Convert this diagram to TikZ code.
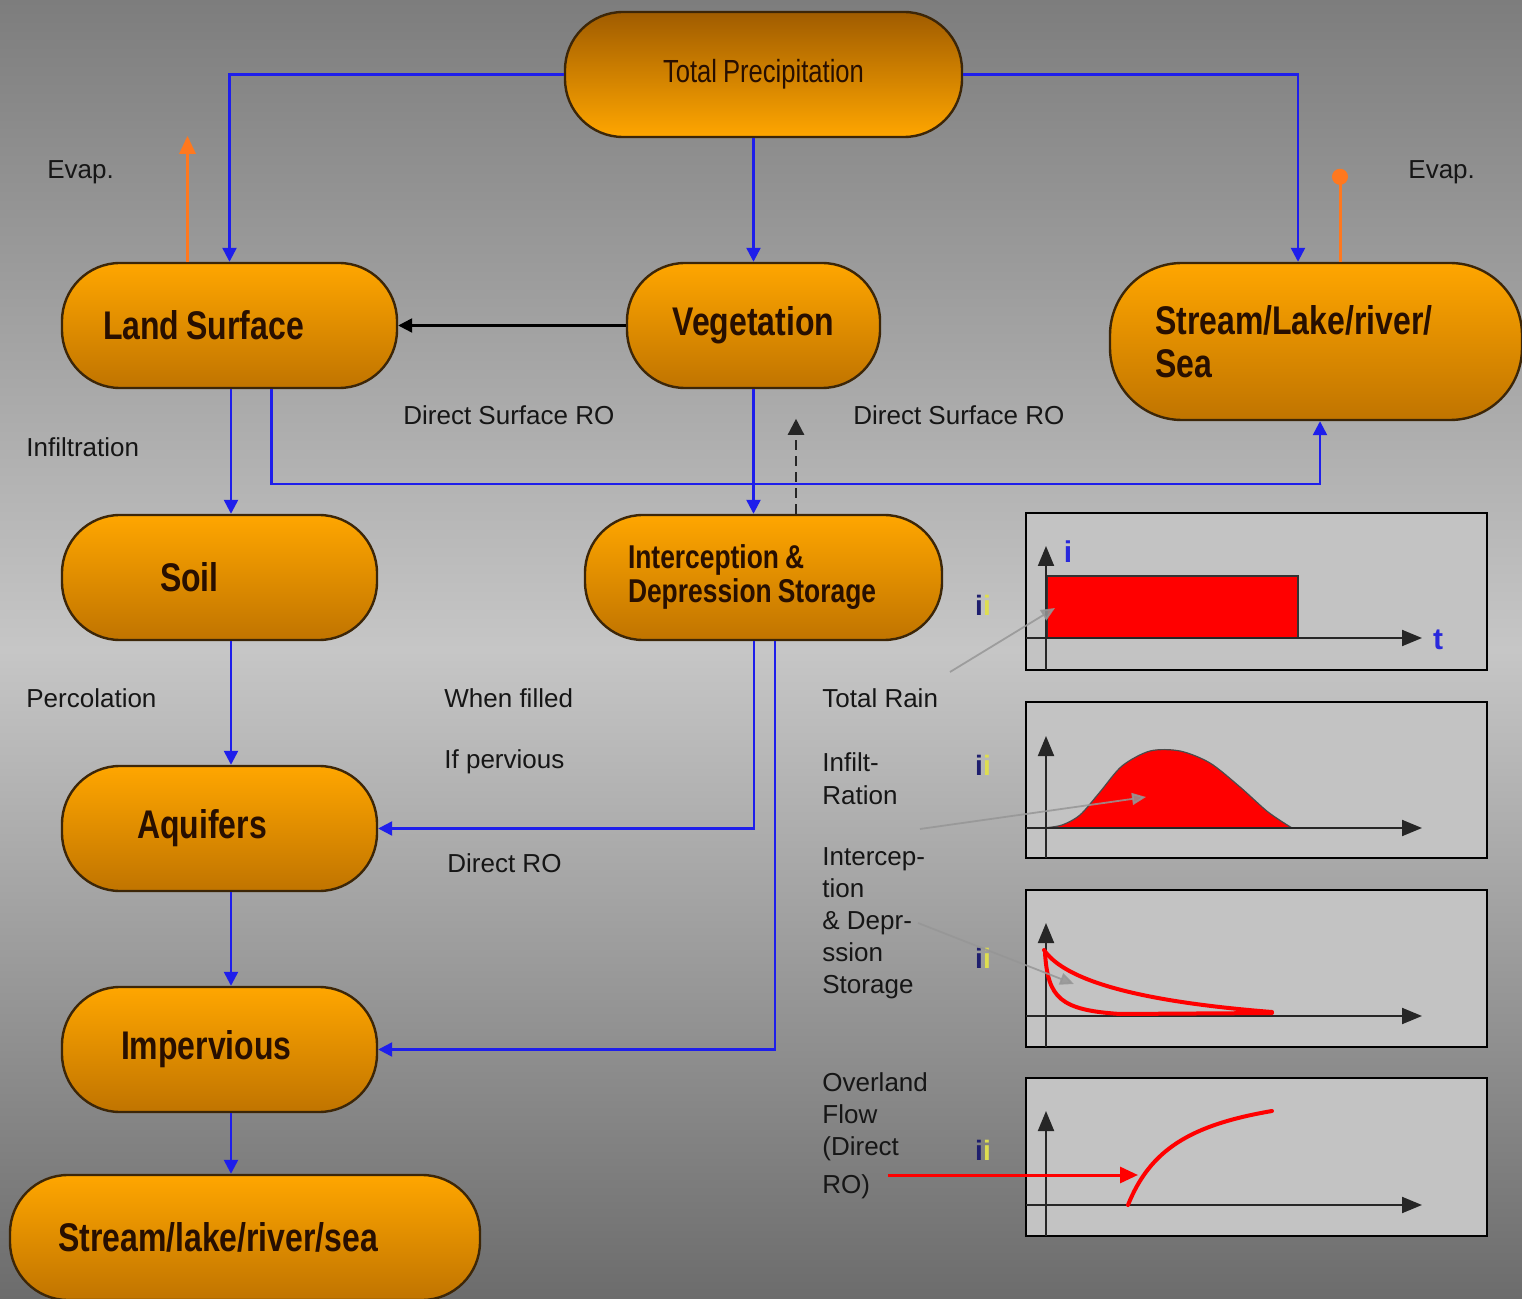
\documentclass[tikz,border=0pt]{standalone}
\usepackage{fontspec}
\setmainfont{Liberation Sans}
\newfontfamily\nodefont{Liberation Sans}[FakeStretch=0.8]
\usetikzlibrary{arrows.meta,calc}
\newcommand{\nsp}{\hspace{3.5pt}}
\definecolor{bgtop}{RGB}{125,125,125}
\definecolor{bglight}{RGB}{198,198,198}
\definecolor{bgbot}{RGB}{108,108,108}
\definecolor{orhi}{RGB}{255,166,0}
\definecolor{orlo}{RGB}{192,116,0}
\definecolor{ordk}{RGB}{160,92,0}
\definecolor{edgeblue}{RGB}{30,30,235}
\definecolor{evapc}{RGB}{255,120,30}
\definecolor{panelc}{RGB}{195,195,195}
\definecolor{nodeborder}{RGB}{60,38,8}
\definecolor{nodetext}{RGB}{40,15,0}
\definecolor{labeltext}{RGB}{22,22,22}
\definecolor{pointerc}{RGB}{150,150,150}
\definecolor{inavy}{RGB}{30,30,110}
\definecolor{iyellow}{RGB}{222,222,80}
\definecolor{axisblue}{RGB}{40,40,220}
\begin{document}
\begin{tikzpicture}[x=0.5pt,y=-0.5pt,
  proc/.style={draw=nodeborder, line width=1.2pt, rectangle, rounded corners=29pt,
    top color=orhi, bottom color=orlo, inner ysep=0pt, minimum height=62.5pt,
    font=\nodefont\bfseries\fontsize{20}{21.5}\selectfont, text=nodetext, align=left},
  flow/.style={draw=edgeblue, line width=1.2pt, -{Triangle[length=7pt,width=7pt]}},
  blackflow/.style={draw=black, line width=1.2pt, -{Triangle[length=7pt,width=7pt]}},
  evaparrow/.style={draw=evapc, line width=1.5pt},
  lab/.style={font=\fontsize{13}{16.5}\selectfont, text=labeltext, inner sep=0pt, anchor=west, align=left},
  panelbox/.style={draw=black, line width=1pt, fill=panelc},
  axisline/.style={draw=black!85, line width=1pt, -{Triangle[length=10pt,width=8pt]}},
  pointer/.style={draw=pointerc, line width=0.9pt, opacity=0.85, -{Triangle[length=7pt,width=6pt]}},
  redcurve/.style={draw=red, line width=2pt, line cap=round},
  iilabel/.style={font=\fontsize{14}{14}\selectfont\bfseries, inner sep=0pt}
]
\useasboundingbox (0,0) rectangle (1522,1299);
\shade[top color=bgtop, bottom color=bgbot, middle color=bglight] (0,0) rectangle (1522,1299);

% ---------- process nodes ----------
\node[proc, top color=ordk, bottom color=orhi, minimum width=198.5pt, align=center,
  font=\nodefont\fontsize{16}{18}\selectfont] (tp) at (763.5,74.5) {Total\hspace{3pt}Precipitation};
\node[proc, minimum width=167.5pt, inner xsep=20.5pt, text width=126.5pt] (land) at (229.5,325.5) {Land\nsp Surface};
\node[proc, minimum width=126.5pt, align=center] (veg) at (753.5,325.5) {Vegetation};
\node[proc, rounded corners=36pt, minimum width=206pt, minimum height=78.5pt, inner xsep=22.5pt, text width=161pt] (sea1) at (1316,341.5) {Stream/Lake/river/\\Sea};
\node[proc, minimum width=157.5pt, inner xsep=49pt, text width=59.5pt] (soil) at (219.5,577.5) {Soil};
\node[proc, minimum width=178.5pt, inner xsep=21.5pt, text width=135.5pt,
  font=\nodefont\bfseries\fontsize{16.5}{17}\selectfont] (inter) at (763.5,577.5) {Interception\hspace{3pt}\&\\Depression\hspace{3pt}Storage};
\node[proc, minimum width=157.5pt, inner xsep=37.5pt, text width=82.5pt] (aqui) at (219.5,828.5) {Aquifers};
\node[proc, minimum width=157.5pt, inner xsep=29.5pt, text width=98.5pt] (imperv) at (219.5,1049.5) {Impervious};
\node[proc, minimum width=235pt, inner xsep=24pt, text width=187pt] (sea2) at (245,1237.5) {Stream/lake/river/sea};

% ---------- connectors ----------
\draw[flow] (tp.west) -| (land.north);
\draw[flow] (tp.east) -| ([xshift=-9pt]sea1.north);
\draw[flow] (veg.north |- tp.south) -- (veg.north);
\draw[blackflow] (veg.west) -- (land.east);
\draw[flow] ([xshift=0.75pt]land.south) -- ([xshift=0.75pt]land.south |- soil.north);
\draw[flow] ([xshift=21pt]land.south) -- ++(0,95) -| ([xshift=2pt]sea1.south);
\draw[flow] (veg.south) -- (veg.south |- inter.north);
\draw[draw=black!85, line width=1.2pt, dash pattern=on 5pt off 3pt, -{Triangle[length=8pt,width=8pt]}]
  ([xshift=16.25pt]inter.north) -- ++(0,-95);
\draw[flow] ([xshift=5.75pt]soil.south) -- ([xshift=5.75pt]aqui.north);
\draw[flow] ([xshift=-4.75pt]inter.south) |- (aqui.east);
\draw[flow] ([xshift=5.75pt]inter.south) |- (imperv.east);
\draw[flow] ([xshift=5.75pt]aqui.south) -- ([xshift=5.75pt]imperv.north);
\draw[flow] ([xshift=5.75pt]imperv.south) -- ([xshift=5.75pt]imperv.south |- sea2.north);
\draw[evaparrow, -{Triangle[length=9pt,width=8pt]}] ([xshift=-21pt]land.north) -- ++(0,-126);
\draw[evaparrow, -{Circle[length=8pt]}] ([xshift=12pt]sea1.north) -- ++(0,-93);

% ---------- labels ----------
\node[lab] (evl) at (47,172) {Evap.};
\node[lab] (evr) at (1408,172) {Evap.};
\node[lab] (infl) at (26,447) {Infiltration};
\node[lab] (dsro1) at (403,415) {Direct Surface RO};
\node[lab] (dsro2) at (853,415) {Direct Surface RO};
\node[lab] (perc) at (26,698) {Percolation};
\node[lab] (wf) at (444,698) {When filled};
\node[lab] (ip) at (444,762) {If pervious};
\node[lab] (dro) at (447,863) {Direct RO};
\node[lab] (rain) at (822,698) {Total Rain};
\node[lab] (infr) at (822,779) {Infilt-\\Ration};
\node[lab, font=\fontsize{13}{16}\selectfont] (icp) at (822,923) {Intercep-\\tion\\\& Depr-\\ssion\\Storage};
\node[lab, font=\fontsize{13}{16}\selectfont] (ovl) at (822,1136) {Overland\\Flow\\(Direct\\[3pt]RO)};

% ii labels
\node[iilabel] (ii1) at (983,605) {\textcolor{inavy}{i}\textcolor{iyellow}{i}};
\node[iilabel] (ii2) at (983,765) {\textcolor{inavy}{i}\textcolor{iyellow}{i}};
\node[iilabel] (ii3) at (983,958) {\textcolor{inavy}{i}\textcolor{iyellow}{i}};
\node[iilabel] (ii4) at (983,1150) {\textcolor{inavy}{i}\textcolor{iyellow}{i}};

% ---------- panel 1 : total rain ----------
\draw[panelbox] (1026,513) rectangle (1487,670);
\draw[fill=red, draw=black!80, line width=0.8pt] (1047,576) rectangle (1298,638);
\draw[axisline] (1026,638) -- (1422,638);
\draw[axisline] (1046,670) -- (1046,546);
\node[font=\fontsize{15}{15}\selectfont\bfseries, text=axisblue, inner sep=0pt] (ilab) at (1068,552) {i};
\node[font=\fontsize{15}{15}\selectfont\bfseries, text=axisblue, inner sep=0pt] (tlab) at (1438,640) {t};
\coordinate (p1s) at (950,672);
\coordinate (p1e) at (1055,608);
\draw[pointer] (p1s) -- (p1e);

% ---------- panel 2 : infiltration ----------
\draw[panelbox] (1026,702) rectangle (1487,858);
\draw[fill=red, draw=black!70, line width=0.6pt] plot[smooth] coordinates
  {(1044,828) (1062,825) (1080,815) (1100,792) (1122,766) (1150,751) (1180,751) (1210,763) (1240,787) (1268,812) (1292,828)} -- cycle;
\draw[axisline] (1026,828) -- (1422,828);
\draw[axisline] (1046,858) -- (1046,736);
\coordinate (p2s) at (920,829);
\coordinate (p2e) at (1146,797);
\draw[pointer] (p2s) -- (p2e);

% ---------- panel 3 : interception & depression storage ----------
\draw[panelbox] (1026,890) rectangle (1487,1047);
\draw[axisline] (1026,1016) -- (1422,1016);
\draw[axisline] (1046,1047) -- (1046,923);
\draw[redcurve] (1044,950) .. controls (1062,976) and (1120,1000) .. (1272,1012);
\draw[redcurve] (1045,953) .. controls (1048,998) and (1060,1010) .. (1120,1014) -- (1272,1013);
\coordinate (p3s) at (918,923);
\coordinate (p3e) at (1074,984);
\draw[pointer] (p3s) -- (p3e);

% ---------- panel 4 : overland flow ----------
\draw[panelbox] (1026,1078) rectangle (1487,1236);
\draw[axisline] (1026,1205) -- (1422,1205);
\draw[axisline] (1046,1236) -- (1046,1111);
\draw[redcurve] (1128,1205) .. controls (1150,1150) and (1190,1125) .. (1272,1111);
\coordinate (p4s) at (888,1175);
\coordinate (p4e) at (1138,1175);
\draw[draw=red, line width=1.5pt, -{Triangle[length=9pt,width=8pt]}] (p4s) -- (p4e);
\end{tikzpicture}
\end{document}
